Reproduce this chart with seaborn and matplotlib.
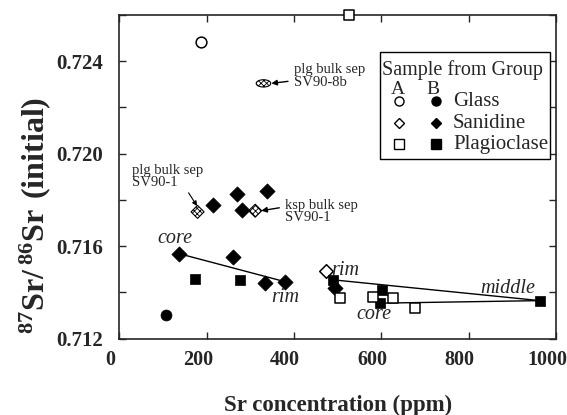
import numpy as np
import pandas as pd
import seaborn as sns
import matplotlib.pyplot as plt
import matplotlib.transforms as mtransforms
from matplotlib.path import Path

# Sr concentration (ppm) and 87Sr/86Sr (initial)
glass_a_x = [187]
glass_a_y = [0.72481]
glass_b_x = [107]
glass_b_y = [0.71302]

san_a_x = [473]
san_a_y = [0.71494]
san_b_x = [137, 260, 334, 379, 215, 269, 337, 280, 494]
san_b_y = [0.71567, 0.71551, 0.71439, 0.71446, 0.71779, 0.71826, 0.71840, 0.71757, 0.71418]

plag_a_x = [526, 505, 581, 627, 677]
plag_a_y = [0.7260, 0.71377, 0.71381, 0.71374, 0.71334]
plag_b_x = [174, 276, 489, 601, 597, 963]
plag_b_y = [0.71457, 0.71454, 0.71454, 0.71410, 0.71353, 0.71364]

# bulk mineral separates
bulk_labels = ["plg bulk sep\nSV90-8b", "plg bulk sep\nSV90-1", "ksp bulk sep\nSV90-1"]
bulk_x = [330, 179, 311]
bulk_y = [0.72304, 0.71748, 0.71753]

# core -> rim traverses
san_trav_x = [137, 379]
san_trav_y = [0.71567, 0.71446]
plag_rim_x = [489, 963]
plag_rim_y = [0.71454, 0.71364]
plag_core_x = [597, 963]
plag_core_y = [0.71353, 0.71364]

sns.set_style("ticks")
plt.rcParams["font.family"] = ["Liberation Serif", "DejaVu Serif"]
plt.rcParams["mathtext.fontset"] = "custom"
plt.rcParams["mathtext.bf"] = "Liberation Serif:bold"
plt.rcParams["mathtext.rm"] = "Liberation Serif"
plt.rcParams["hatch.linewidth"] = 0.6

fig = plt.figure(figsize=(5.67, 4.15), dpi=100)
ax = fig.add_axes([0.2106, 0.1843, 0.77, 0.7796])

# traverse lines
for tx, ty in [(san_trav_x, san_trav_y), (plag_rim_x, plag_rim_y), (plag_core_x, plag_core_y)]:
    sns.lineplot(x=tx, y=ty, ax=ax, color="black", lw=1.0, sort=False, estimator=None)

open_kw = dict(facecolor="white", edgecolor="black", linewidth=1.1, zorder=3)
fill_kw = dict(color="black", edgecolor="black", linewidth=0.5, zorder=3)

sns.scatterplot(x=glass_a_x, y=glass_a_y, ax=ax, marker="o", s=60, **open_kw)
sns.scatterplot(x=glass_b_x, y=glass_b_y, ax=ax, marker="o", s=62, **fill_kw)
sns.scatterplot(x=san_a_x, y=san_a_y, ax=ax, marker="D", s=48, **open_kw)
sns.scatterplot(x=san_b_x, y=san_b_y, ax=ax, marker="D", s=60, **fill_kw)
sns.scatterplot(x=plag_b_x, y=plag_b_y, ax=ax, marker="s", s=58, **fill_kw)
sns.scatterplot(x=plag_a_x, y=plag_a_y, ax=ax, marker="s", s=58, clip_on=False,
                facecolor="white", edgecolor="black", linewidth=1.1, zorder=4)

# hatched bulk separates: an oval for SV90-8b, diamonds for SV90-1
t = np.linspace(0, 2 * np.pi, 40)
oval = Path(np.column_stack([np.cos(t), 0.5 * np.sin(t)]))
bulk_markers = [oval, "D", "D"]
bulk_sizes = [110, 44, 44]
for bx, by, bm, bs in zip(bulk_x, bulk_y, bulk_markers, bulk_sizes):
    sns.scatterplot(x=[bx], y=[by], ax=ax, marker=bm, s=bs, facecolor="white",
                    edgecolor="black", linewidth=0.8, hatch="xxxxxx", zorder=5)

# annotations for bulk separates
ax.annotate(bulk_labels[0], xy=(bulk_x[0] + 18, bulk_y[0]), xytext=(400, 0.72335),
            fontsize=10.5, va="center", ha="left", linespacing=0.95,
            arrowprops=dict(arrowstyle="-|>", color="black", lw=1.0, mutation_scale=8,
                            shrinkA=2, shrinkB=0))
ax.annotate(bulk_labels[1], xy=(bulk_x[1] + 4, bulk_y[1] + 0.0001), xytext=(28, 0.7190),
            fontsize=10.5, va="center", ha="left", linespacing=0.95,
            arrowprops=dict(arrowstyle="-|>", color="black", lw=0.8, mutation_scale=7,
                            shrinkA=0, shrinkB=3, relpos=(0.77, 0.0)))
ax.annotate(bulk_labels[2], xy=(bulk_x[2] + 14, bulk_y[2]), xytext=(380, 0.7175),
            fontsize=10.5, va="center", ha="left", linespacing=0.95,
            arrowprops=dict(arrowstyle="-|>", color="black", lw=1.0, mutation_scale=8,
                            shrinkA=2, shrinkB=0, relpos=(0.0, 0.68)))

# traverse labels
trav_labels = ["core", "rim", "rim", "core", "middle"]
trav_x = [128, 379, 518, 583, 889]
trav_y = [0.71632, 0.71378, 0.71493, 0.71306, 0.71415]
for lab, lx, ly in zip(trav_labels, trav_x, trav_y):
    ax.text(lx, ly, lab, fontsize=14.5, style="italic", ha="center", va="center")

ax.set_xlim(0, 1000)
ax.set_ylim(0.712, 0.726)
ax.set_xticks(np.arange(0, 1001, 200))
ax.set_yticks([0.712, 0.716, 0.720, 0.724])
ax.set_yticks(np.arange(0.712, 0.7261, 0.002), minor=True)
ax.set_yticklabels(["0.712", "0.716", "0.720", "0.724"])
ax.tick_params(axis="both", which="both", direction="in", top=True, right=True,
               length=5, width=1.0)
ax.tick_params(axis="x", labelsize=14.5, pad=8)
ax.tick_params(axis="y", labelsize=15, pad=12)
shift = mtransforms.ScaledTranslation(-9 / 100, 0, fig.dpi_scale_trans)
for lab in ax.get_xticklabels():
    lab.set_fontweight("bold")
    lab.set_transform(lab.get_transform() + shift)
for lab in ax.get_yticklabels():
    lab.set_fontweight("bold")
for sp in ax.spines.values():
    sp.set_linewidth(1.2)

ax.set_xlabel("Sr concentration (ppm)", fontsize=16.5, fontweight="bold")
ax.xaxis.set_label_coords(0.5, -0.175)
ax.set_ylabel(r"$\mathbf{^{87}Sr/\,^{86}Sr\ (initial)}$", fontsize=23)
ax.yaxis.set_label_coords(-0.153, 0.38)

# legend drawn by hand: open (A) and filled (B) symbols side by side
tr = ax.transAxes
ax.add_patch(plt.Rectangle((0.597, 0.555), 0.389, 0.331, transform=tr, facecolor="white",
                           edgecolor="black", lw=1.0, zorder=6))
ax.text(0.601, 0.815, "Sample from Group", transform=tr, fontsize=14.5, va="baseline", zorder=7)
ax.text(0.638, 0.771, "A", transform=tr, fontsize=14, ha="center", va="center", zorder=7)
ax.text(0.718, 0.771, "B", transform=tr, fontsize=14, ha="center", va="center", zorder=7)
leg_names = ["Glass", "Sanidine", "Plagioclase"]
leg_markers = ["o", "D", "s"]
leg_y = [0.734, 0.666, 0.601]
for name, mk, ly in zip(leg_names, leg_markers, leg_y):
    ms = 5.2 if mk == "D" else 6.5
    ax.plot([0.641], [ly], marker=mk, ms=ms, mfc="white", mec="black", mew=1.0,
            transform=tr, zorder=7, clip_on=False)
    ax.plot([0.725], [ly], marker=mk, ms=ms, mfc="black", mec="black",
            transform=tr, zorder=7, clip_on=False)
    ax.text(0.764, ly, name, transform=tr, fontsize=15, va="center", zorder=7)

fig.savefig("out.png", dpi=100)
